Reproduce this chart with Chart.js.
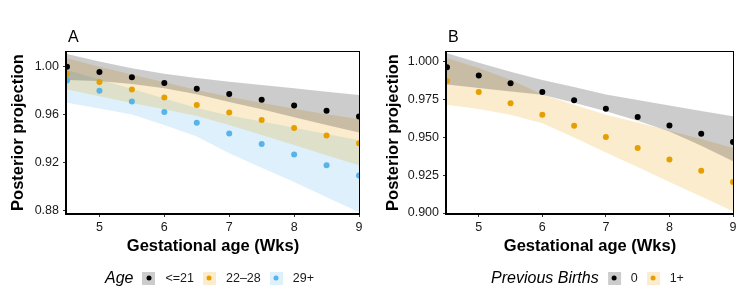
<!DOCTYPE html>
<html><head><meta charset="utf-8">
<script src="https://cdn.jsdelivr.net/npm/chart.js@4.4.0/dist/chart.umd.min.js"></script>
<style>
html,body{margin:0;padding:0;background:#fff;width:747px;height:299px;overflow:hidden;font-family:'Liberation Sans',Arial,Helvetica,sans-serif;}
#wrap{position:relative;width:747px;height:299px;}
canvas{position:absolute;top:0;}
.legend{position:absolute;top:268px;height:20px;display:flex;align-items:center;transform:translateX(-50%);white-space:nowrap;color:#000;}
.legend .ttl{font-style:italic;font-size:16px;margin-right:9px;}
.legend .key{width:13px;height:13px;position:relative;margin-right:10px;}
.legend .key i{position:absolute;left:50%;top:50%;width:5px;height:5px;border-radius:50%;transform:translate(-50%,-50%);}
.legend .lab{font-size:12.5px;margin-right:9px;color:#1a1a1a;}
</style></head>
<body><div id="wrap">
<canvas id="cA" width="373" height="299" style="left:0"></canvas>
<canvas id="cB" width="373" height="299" style="left:374px"></canvas>
<div class="legend" id="legA" style="left:214px"></div>
<div class="legend" id="legB" style="left:592px"></div>
</div>
<script>
// ---- data ----
const weeks = [4.5, 5, 5.5, 6, 6.5, 7, 7.5, 8, 8.5, 9];
const xTicks = [5, 6, 7, 8, 9];

const ageLabels = ['<=21', '22\u201328', '29+'];
const ageLe21      = [1.000, 0.9956, 0.9911, 0.9864, 0.9817, 0.9772, 0.9725, 0.9678, 0.9633, 0.9586];
const ageLe21Upper = [1.0106, 1.0043, 0.9987, 0.9942, 0.9905, 0.9875, 0.9847, 0.9820, 0.9792, 0.9764];
const ageLe21Lower = [0.9889, 0.9880, 0.9855, 0.9820, 0.9770, 0.9706, 0.9645, 0.9580, 0.9515, 0.9453];
const age22to28      = [0.9939, 0.9872, 0.9811, 0.9744, 0.9681, 0.9619, 0.9556, 0.9489, 0.9428, 0.9364];
const age22to28Upper = [1.0070, 1.0000, 0.9935, 0.9870, 0.9805, 0.9750, 0.9700, 0.9650, 0.9605, 0.9564];
const age22to28Lower = [0.9810, 0.9754, 0.9698, 0.9645, 0.9590, 0.9514, 0.9431, 0.9348, 0.9264, 0.9181];
const age29plus      = [0.9886, 0.9800, 0.9711, 0.9622, 0.9533, 0.9444, 0.9356, 0.9269, 0.9181, 0.9094];
const age29plusUpper = [0.9972, 0.9893, 0.9814, 0.9735, 0.9656, 0.9594, 0.9543, 0.9491, 0.9440, 0.9389];
const age29plusLower = [0.9700, 0.9652, 0.9603, 0.9514, 0.9420, 0.9280, 0.9160, 0.9040, 0.8915, 0.8792];
const yTicksA = [0.88, 0.92, 0.96, 1.00];
const yTickLabelsA = ['0.88', '0.92', '0.96', '1.00'];

const birthLabels = ['0', '1+'];
const births0      = [0.9965, 0.9910, 0.9859, 0.9801, 0.9746, 0.9691, 0.9636, 0.9580, 0.9525, 0.9470];
const births0Upper = [1.0058, 0.9995, 0.9935, 0.9880, 0.9835, 0.9785, 0.9748, 0.9712, 0.9676, 0.9640];
const births0Lower = [0.9850, 0.9828, 0.9805, 0.9783, 0.9730, 0.9673, 0.9610, 0.9540, 0.9445, 0.9342];
const births1      = [0.9874, 0.9801, 0.9726, 0.9651, 0.9578, 0.9503, 0.9430, 0.9355, 0.9280, 0.9205];
const births1Upper = [1.0026, 0.9960, 0.9883, 0.9785, 0.9717, 0.9651, 0.9600, 0.9545, 0.9490, 0.9430];
const births1Lower = [0.9717, 0.9689, 0.9651, 0.9595, 0.9500, 0.9400, 0.9305, 0.9205, 0.9110, 0.9011];
const yTicksB = [0.900, 0.925, 0.950, 0.975, 1.000];
const yTickLabelsB = ['0.900', '0.925', '0.950', '0.975', '1.000'];

// ---- styling ----
const FONT = "'Liberation Sans', Arial, Helvetica, sans-serif";
const COLS = { black: [0,0,0], orange: [230,159,0], blue: [86,180,233] };
const rgb = c => `rgb(${c.join(',')})`;
const rgba = (c, a) => `rgba(${c.join(',')},${a})`;
const pts = arr => arr.map((v, i) => ({ x: weeks[i], y: v }));

function pointDs(vals, col) {
  return { data: pts(vals), showLine: false, pointRadius: 3, pointHoverRadius: 3,
    pointBorderWidth: 0, pointBackgroundColor: rgb(col), borderColor: 'rgba(0,0,0,0)', clip: 0 };
}
function ribbonDs(upper, lower, col) {
  return [
    { data: pts(upper), fill: '+1', backgroundColor: rgba(col, 0.2), borderColor: 'rgba(0,0,0,0)',
      borderWidth: 1, pointRadius: 0, tension: 0, clip: 0 },
    { data: pts(lower), fill: false, borderColor: 'rgba(0,0,0,0)', borderWidth: 1, pointRadius: 0, tension: 0, clip: 0 }
  ];
}

const deco = {
  id: 'deco',
  afterDatasetsDraw(chart) {
    const { ctx, chartArea: { left, top, right, bottom } } = chart;
    const L = Math.round(left), T = Math.round(top), R = Math.round(right), B = Math.round(bottom);
    ctx.save();
    ctx.fillStyle = '#000';
    ctx.fillRect(L - 1, T - 1, R - L + 2, 1);      // top
    ctx.fillRect(R, T - 1, 1, B - T + 2);          // right
    ctx.fillRect(L - 2, T - 1, 2, B - T + 3);      // left
    ctx.fillRect(L - 2, B, R - L + 3, 2);          // bottom
    ctx.restore();
  },
  afterDraw(chart, args, opts) {
    const { ctx, chartArea: { left } } = chart;
    ctx.save();
    ctx.fillStyle = '#000';
    ctx.font = `16px ${FONT}`;
    ctx.textBaseline = 'alphabetic';
    ctx.fillText(opts.label, left + 1, 42);
    ctx.restore();
  }
};

function makeChart(id, label, datasets, yMin, yMax, yTicks, yLabels, padLeft, yWidth) {
  return new Chart(document.getElementById(id), {
    type: 'line',
    data: { datasets },
    plugins: [deco],
    options: {
      responsive: false, animation: false, events: [],
      layout: { padding: { left: padLeft, right: 14, top: 52, bottom: 43 } },
      plugins: { legend: { display: false }, tooltip: { enabled: false }, deco: { label } },
      scales: {
        x: {
          type: 'linear', min: 4.5, max: 9,
          afterBuildTicks: s => { s.ticks = xTicks.map(v => ({ value: v })); },
          afterFit: s => { s.height = 43; },
          grid: { display: true, drawOnChartArea: false, drawTicks: true, tickLength: 4, color: '#333', lineWidth: 1 },
          border: { display: false },
          ticks: { font: { size: 12.5, family: FONT }, color: '#1a1a1a', padding: 3, maxRotation: 0,
                   callback: v => String(v) },
          title: { display: true, text: 'Gestational age (Wks)', color: '#000',
                   font: { size: 16.5, weight: 'bold', family: FONT }, padding: { top: 0, bottom: 0 } }
        },
        y: {
          type: 'linear', min: yMin, max: yMax,
          afterBuildTicks: s => { s.ticks = yTicks.map(v => ({ value: v })); },
          afterFit: s => { s.width = yWidth; },
          grid: { display: true, drawOnChartArea: false, drawTicks: true, tickLength: 4, color: '#333', lineWidth: 1 },
          border: { display: false },
          ticks: { font: { size: 12.5, family: FONT }, color: '#1a1a1a', padding: 4,
                   callback: (v) => { const i = yTicks.findIndex(t => Math.abs(t - v) < 1e-9); return i >= 0 ? yLabels[i] : ''; } },
          title: { display: true, text: 'Posterior projection', color: '#000',
                   font: { size: 16.5, weight: 'bold', family: FONT }, padding: { top: 6, bottom: 0 } }
        }
      }
    }
  });
}

const dsA = [
  pointDs(ageLe21, COLS.black), pointDs(age22to28, COLS.orange), pointDs(age29plus, COLS.blue),
  ...ribbonDs(ageLe21Upper, ageLe21Lower, COLS.black),
  ...ribbonDs(age22to28Upper, age22to28Lower, COLS.orange),
  ...ribbonDs(age29plusUpper, age29plusLower, COLS.blue)
];
const dsB = [
  pointDs(births0, COLS.black), pointDs(births1, COLS.orange),
  ...ribbonDs(births0Upper, births0Lower, COLS.black),
  ...ribbonDs(births1Upper, births1Lower, COLS.orange)
];

makeChart('cA', 'A', dsA, 0.8783, 1.0122, yTicksA, yTickLabelsA, 3, 64);
makeChart('cB', 'B', dsB, 0.900, 1.0066, yTicksB, yTickLabelsB, 4, 69);

function buildLegend(el, title, labels, cols) {
  let html = `<span class="ttl">${title}</span>`;
  labels.forEach((l, i) => {
    html += `<span class="key" style="background:${rgba(cols[i],0.2)}"><i style="background:${rgb(cols[i])}"></i></span>`;
    html += `<span class="lab">${l.replace('<','&lt;')}</span>`;
  });
  el.innerHTML = html;
}
buildLegend(document.getElementById('legA'), 'Age', ageLabels, [COLS.black, COLS.orange, COLS.blue]);
buildLegend(document.getElementById('legB'), 'Previous Births', birthLabels, [COLS.black, COLS.orange]);
</script>
</body></html>
